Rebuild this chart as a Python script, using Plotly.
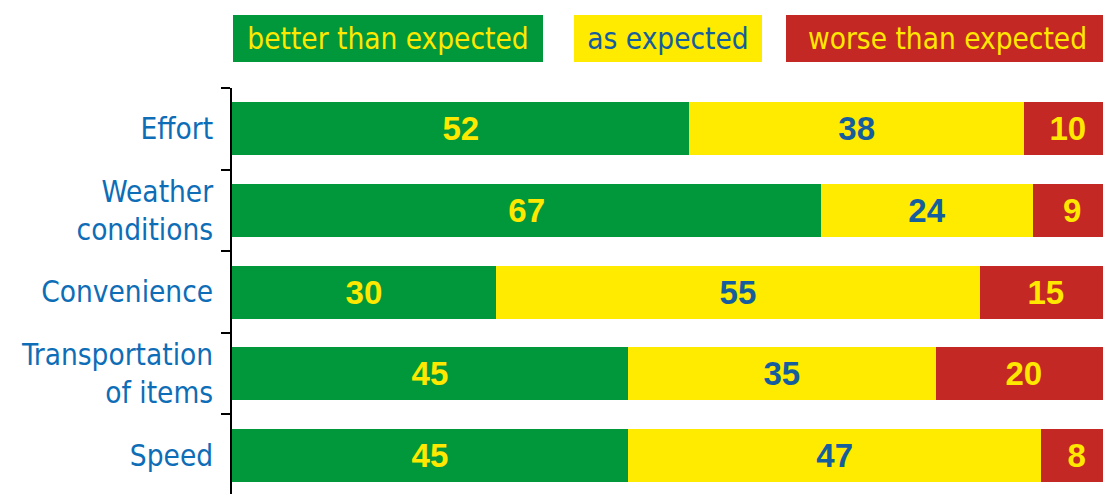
import plotly.graph_objects as go

categories = ["Effort", "Weather<br>conditions", "Convenience", "Transportation<br>of items", "Speed"]
series_names = ["better than expected", "as expected", "worse than expected"]
better = [52, 67, 30, 45, 45]
as_exp = [38, 24, 55, 35, 47]
worse = [10, 9, 15, 20, 8]

GREEN = "#00983A"
YELLOW = "#FFEB00"
RED = "#C42824"
TXT_YELLOW = "#FFE800"
TXT_BLUE = "#155E9E"
LABEL_BLUE = "#0D6DB6"

series = [
    (series_names[0], better, GREEN, TXT_YELLOW),
    (series_names[1], as_exp, YELLOW, TXT_BLUE),
    (series_names[2], worse, RED, TXT_YELLOW),
]

fig = go.Figure()
for name, vals, col, tcol in series:
    fig.add_trace(go.Bar(
        y=categories, x=vals, name=name, orientation="h",
        marker=dict(color=col, line=dict(width=0)),
        text=vals, textposition="inside", insidetextanchor="middle",
        textfont=dict(family="Liberation Sans, Arial, sans-serif", size=33, color=tcol, weight="bold"),
        width=0.65, hoverinfo="skip",
    ))

W, H = 1103, 494
ML, MT = 232, 88
PW, PH = W - ML, H - MT

LABEL_FONT = "DejaVu Sans Condensed, DejaVu Sans, sans-serif"

# legend boxes (layout decoration)
legend_boxes = [(233, 310, GREEN, TXT_YELLOW), (574, 188, YELLOW, TXT_BLUE), (786, 323, RED, TXT_YELLOW)]
annotations = []
for (name, _, _, _), (x0, w, bg, fc) in zip(series, legend_boxes):
    annotations.append(dict(
        xref="paper", yref="paper", x=(x0 - ML) / PW, y=(H - 15) / PH,
        xanchor="left", yanchor="top", text=name, showarrow=False,
        width=w, height=47, bgcolor=bg, borderpad=0, borderwidth=0, align="center", valign="middle",
        font=dict(family=LABEL_FONT, size=29.5, color=fc),
    ))

fig.update_layout(
    width=W, height=H, barmode="stack", showlegend=False,
    margin=dict(l=ML, r=0, t=MT, b=0),
    paper_bgcolor="white", plot_bgcolor="white",
    annotations=annotations,
    xaxis=dict(range=[0, 99], showgrid=False, zeroline=False, showticklabels=False, showline=False, ticks=""),
    yaxis=dict(type="category", categoryorder="array", categoryarray=categories,
               range=[4.475, -0.5], showgrid=False, zeroline=False,
               showline=True, linecolor="black", linewidth=2,
               ticks="outside", tickson="boundaries", ticklen=9, tickwidth=2, tickcolor="black",
               ticklabelstandoff=11,
               tickfont=dict(family=LABEL_FONT, size=29.5, color=LABEL_BLUE)),
)

fig.write_html("out.html", config={"displayModeBar": False},
               post_script="document.body.style.margin='0px';document.body.style.overflow='hidden';")
